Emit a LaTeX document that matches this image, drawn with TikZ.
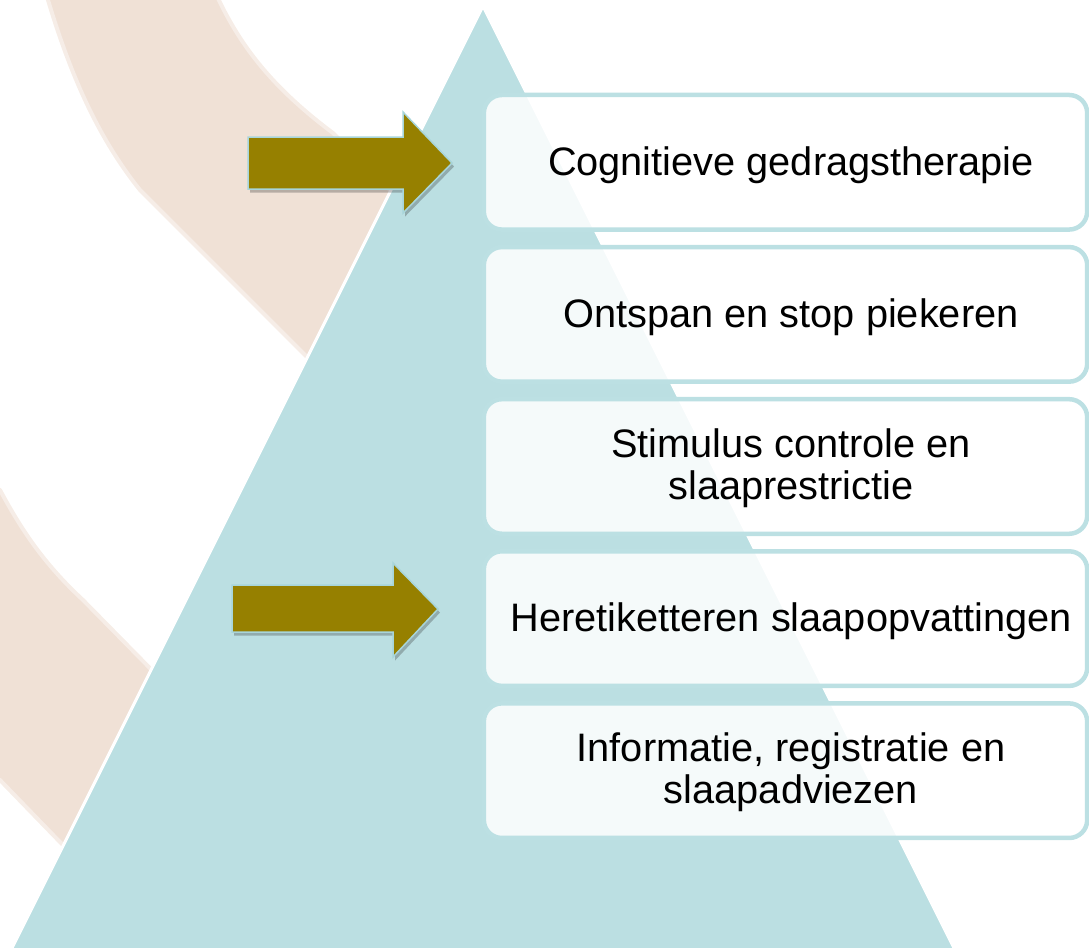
\documentclass[tikz,border=0pt]{standalone}
\usepackage{fontspec}
\setmainfont{Liberation Sans}
\usetikzlibrary{shadows}
\definecolor{tri}{HTML}{BBDFE2}
\definecolor{beige}{HTML}{F0E1D6}
\definecolor{beigeedge}{HTML}{F6EDE7}
\definecolor{olive}{HTML}{968000}
\definecolor{arrowline}{HTML}{A8D5DA}
\definecolor{boxline}{HTML}{BCE0E3}
\begin{document}
\begin{tikzpicture}[x=0.01cm,y=-0.01cm,
  stepbox/.style={draw=boxline, line width=0.045cm, rounded corners=0.18cm, fill=white, fill opacity=0.86, minimum width=6.03cm, minimum height=1.345cm, inner sep=0pt, outer sep=0pt},
  boxtext/.style={font=\fontsize{11.3}{11.9}\selectfont, align=center, text=black, inner sep=0pt},
  stripe/.style={fill=beige, draw=beigeedge, line width=0.04cm, line join=round},
  bigarrow/.style={fill=olive, draw=arrowline, line width=0.015cm, line join=miter,
    drop shadow={shadow xshift=0.02cm, shadow yshift=-0.035cm, opacity=0.3, fill=black!80}}]
\useasboundingbox (0,0) rectangle (1089,947);
\clip (0,0) rectangle (1089,947);
% background stripes
\path[stripe] (45,-10) -- (214,-10) .. controls (235,35) and (262,80) .. (333,133)
  -- (440,240) -- (350,400) -- (307,357) -- (140,190) .. controls (100,140) and (72,80) .. (48,0) -- cycle;
\path[stripe] (-10,485) -- (0,490) .. controls (20,527) and (42,562) .. (83,600)
  -- (250,770) -- (120,900) -- (60,842) -- (0,780) -- (-10,775) -- cycle;
% pyramid
\draw[fill=tri, draw=white, line width=0.03cm] (483,6) -- (1000,1040) -- (-34,1040) -- cycle;
% boxes
\node[stepbox] (box1) at (785.5,162.25) {};
\node[stepbox] (box2) at (785.5,314.35) {};
\node[stepbox] (box3) at (785.5,466.45) {};
\node[stepbox] (box4) at (785.5,618.55) {};
\node[stepbox] (box5) at (785.5,770.65) {};
\node[boxtext] (txt1) at ([xshift=0.055cm,yshift=-0.03cm]box1.center) {Cognitieve gedragstherapie};
\node[boxtext] (txt2) at ([xshift=0.055cm,yshift=-0.03cm]box2.center) {Ontspan en stop piekeren};
\node[boxtext] (txt3) at ([xshift=0.055cm,yshift=-0.015cm]box3.center) {Stimulus controle en\\slaaprestrictie};
\node[boxtext] (txt4) at ([xshift=0.055cm,yshift=-0.03cm]box4.center) {Heretiketteren slaapopvattingen};
\node[boxtext] (txt5) at ([xshift=0.055cm,yshift=-0.015cm]box5.center) {Informatie, registratie en\\slaapadviezen};
% arrows
\path[bigarrow] (248,137) -- (403,137) -- (403,112) -- (452,163) -- (403,213) -- (403,189) -- (248,189) -- cycle;
\path[bigarrow] (232,585) -- (393,585) -- (393,563) -- (438,609) -- (393,657) -- (393,632) -- (232,632) -- cycle;
\end{tikzpicture}
\end{document}
